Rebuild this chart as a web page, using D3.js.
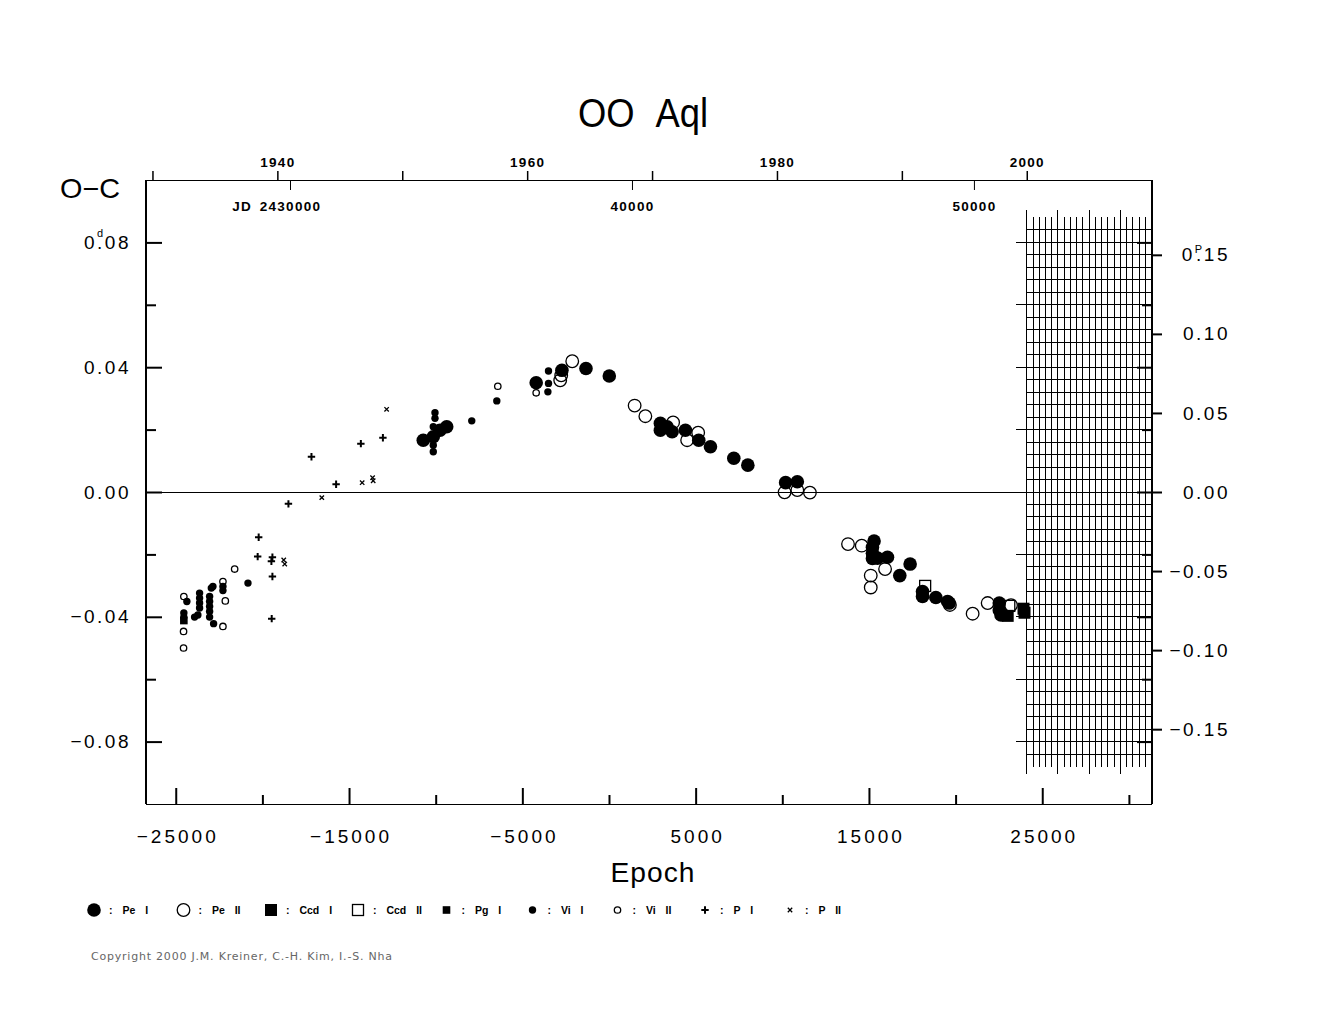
<!DOCTYPE html>
<html><head><meta charset="utf-8">
<script src="https://cdn.jsdelivr.net/npm/d3@7"></script>
<style>body{margin:0;background:#fff} svg{display:block}</style>
</head><body><svg id="c" width="1325" height="1020"></svg>
<script>
// ---------- data (epoch, O-C in days) ----------
const peI = [[-10717,0.0166],[-10139,0.0177],[-9751,0.0198],[-9364,0.0209],[-4202,0.0350],[-2717,0.0390],[-1329,0.0396],[17,0.0372],[2965,0.0220],[2965,0.0198],[3353,0.0209],[3642,0.0193],[4410,0.0198],[5179,0.0166],[5855,0.0145],[7202,0.0108],[8012,0.0086],[10191,0.0030],[10867,0.0033],[15295,-0.0157],[15202,-0.0177],[15202,-0.0196],[15202,-0.0213],[15491,-0.0212],[16069,-0.0209],[16780,-0.0268],[17376,-0.0231],[18092,-0.0319],[18092,-0.0335],[18861,-0.0338],[19538,-0.0351],[19630,-0.0356],[22520,-0.0356],[22520,-0.0378],[22618,-0.0394]];
const peII = [[-2815,0.0358],[-2757,0.0374],[-2121,0.0419],[1480,0.0277],[2098,0.0243],[3699,0.0223],[4509,0.0166],[5145,0.0190],[10133,-0.0001],[10867,0.0006],[11595,-0.0002],[13792,-0.0167],[14584,-0.0172],[15931,-0.0247],[15104,-0.0268],[15104,-0.0306],[19671,-0.0362],[20983,-0.0390],[21850,-0.0356],[23197,-0.0363]];
const ccdI = [[23006,-0.0397],[23919,-0.0374],[23977,-0.0387]];
const ccdII = [[18243,-0.0301],[23098,-0.0365]];
const pgI = [[-24532,-0.0412]];
const viI = [[-24358,-0.0351],[-24532,-0.0388],[-24532,-0.0401],[-23913,-0.0401],[-23723,-0.0394],[-23624,-0.0324],[-23624,-0.0340],[-23624,-0.0356],[-23624,-0.0372],[-23046,-0.0335],[-23046,-0.0351],[-23046,-0.0367],[-23046,-0.0383],[-23046,-0.0401],[-22948,-0.0308],[-22855,-0.0303],[-22815,-0.0422],[-22277,-0.0303],[-22277,-0.0316],[-20832,-0.0292],[-10040,0.0254],[-10040,0.0236],[-10139,0.0209],[-10139,0.0150],[-10139,0.0129],[-7919,0.0228],[-6474,0.0292],[-3491,0.0388],[-3491,0.0348],[-3526,0.0321]];
const viII = [[-24532,-0.0335],[-24549,-0.0447],[-24549,-0.0500],[-22277,-0.0287],[-22139,-0.0349],[-22277,-0.0431],[-21601,-0.0247],[-6416,0.0339],[-4202,0.0318]];
const pI = [[-20214,-0.0145],[-20272,-0.0207],[-19422,-0.0209],[-19480,-0.0222],[-19422,-0.0271],[-19462,-0.0406],[-18497,-0.0038],[-17168,0.0113],[-15746,0.0025],[-14318,0.0155],[-13046,0.0174]];
const pII = [[-18769,-0.0218],[-18711,-0.0231],[-16572,-0.0018],[-14243,0.0030],[-13642,0.0046],[-13607,0.0036],[-12832,0.0265]];

// ---------- ticks ----------
const epochMajor = [-25000,-15000,-5000,5000,15000,25000];
const epochMinor = [-20000,-10000,0,10000,20000,30000];
const ocMajor = [0.08,0.04,0,-0.04,-0.08];
const ocMinor = [0.06,0.02,-0.02,-0.06];
const phaseTicks = [0.15,0.10,0.05,0,-0.05,-0.10,-0.15];
const yearTicks = [1930,1940,1950,1960,1970,1980,1990,2000];
const yearLabels = [1940,1960,1980,2000];
const jdTicks = [2430000,2440000,2450000];
const legendLabels = ["Pe I","Pe II","Ccd I","Ccd II","Pg I","Vi I","Vi II","P I","P II"];

const P = 0.50679, T0 = 2439328;
const FONT = "'Liberation Sans', Arial, sans-serif";

const svg = d3.select('#c');
const L=146,R=1152,T=180,B=804;
const E0=-26716,E1=31333;
const x = d3.scaleLinear().domain([E0,E1]).range([L,R]);
const y = d3.scaleLinear().domain([-0.1,0.1]).range([B,T]);
const yPh = d3.scaleLinear().domain([-0.1/P,0.1/P]).range([B,T]);
const jdAt = e => T0 + e*P;
const xJD = d3.scaleLinear().domain([jdAt(E0),jdAt(E1)]).range([L,R]);
const yrAt = jd => 2000 + (jd-2451545)/365.25;
const xYr = d3.scaleLinear().domain([yrAt(jdAt(E0)),yrAt(jdAt(E1))]).range([L,R]);

svg.append('rect').attr('width',1325).attr('height',1020).attr('fill','#fff');

// ---------- hatched future region ----------
const grid = svg.append('g').attr('stroke','#000').attr('stroke-width',1).attr('shape-rendering','crispEdges');
const gx0 = xYr(2000);
d3.range(0,20).forEach(i=>{
  const yr = 2000 + i*0.5, tall = i%5===0;
  grid.append('line').attr('x1',xYr(yr)).attr('x2',xYr(yr))
    .attr('y1', tall? y(0.0905): y(0.0882)).attr('y2', tall? y(-0.0905): y(-0.0882));
});
d3.range(-21,22).forEach(i=>{
  const v = i*0.004, ext = (i%5===0);
  grid.append('line').attr('x1', ext? gx0-11 : gx0).attr('x2',R).attr('y1',y(v)).attr('y2',y(v));
});

// zero line
svg.append('line').attr('x1',L).attr('x2',R).attr('y1',y(0)).attr('y2',y(0))
  .attr('stroke','#000').attr('stroke-width',1).attr('shape-rendering','crispEdges');

// ---------- frame ----------
const fr = svg.append('g').attr('stroke','#000').attr('shape-rendering','crispEdges');
fr.append('line').attr('x1',L).attr('x2',R).attr('y1',T).attr('y2',T).attr('stroke-width',1);
fr.append('line').attr('x1',L).attr('x2',R).attr('y1',B).attr('y2',B).attr('stroke-width',1);
fr.append('line').attr('x1',L).attr('x2',L).attr('y1',T).attr('y2',B).attr('stroke-width',2);
fr.append('line').attr('x1',R).attr('x2',R).attr('y1',T).attr('y2',B).attr('stroke-width',2);

function styleAxis(g, fs, bold, ls){
  g.select('.domain').remove();
  g.selectAll('.tick line').attr('stroke','#000').attr('stroke-width',2);
  g.selectAll('.tick text').attr('fill','#000').style('font-family',FONT).style('font-size',fs+'px')
    .style('font-weight', bold?'bold':'normal').style('letter-spacing', (ls||0)+'px');
}
const fmt2 = d => d3.format('.2f')(d);

// left axis
const gl = svg.append('g').attr('transform',`translate(${L},0)`)
  .call(d3.axisLeft(y).tickValues(ocMajor).tickSize(-16).tickPadding(15).tickFormat(fmt2));
styleAxis(gl,19,false,2.5);
const glm = svg.append('g').attr('transform',`translate(${L},0)`)
  .call(d3.axisLeft(y).tickValues(ocMinor).tickSize(-10).tickFormat(''));
styleAxis(glm,10);
// right inward mirror
const gri = svg.append('g').attr('transform',`translate(${R},0)`)
  .call(d3.axisRight(y).tickValues(ocMajor).tickSize(-15).tickFormat(''));
styleAxis(gri,10);
const grim = svg.append('g').attr('transform',`translate(${R},0)`)
  .call(d3.axisRight(y).tickValues(ocMinor).tickSize(-10).tickFormat(''));
styleAxis(grim,10);
// right phase axis
const gr = svg.append('g').attr('transform',`translate(${R},0)`)
  .call(d3.axisRight(yPh).tickValues(phaseTicks).tickSize(10).tickPadding(4).tickFormat(fmt2));
styleAxis(gr,19,false,2.5);
gr.selectAll('.tick text').attr('x',78).attr('text-anchor','end');

// bottom axis
const gb = svg.append('g').attr('transform',`translate(0,${B})`)
  .call(d3.axisBottom(x).tickValues(epochMajor).tickSize(-16).tickPadding(26).tickFormat(d3.format('d')));
styleAxis(gb,19,false,3);
gb.selectAll('.tick text').attr('dx','1.5px');
const gbm = svg.append('g').attr('transform',`translate(0,${B})`)
  .call(d3.axisBottom(x).tickValues(epochMinor).tickSize(-9).tickFormat(''));
styleAxis(gbm,10);

// top year axis
const gy = svg.append('g').attr('transform',`translate(0,${T})`)
  .call(d3.axisTop(xYr).tickValues(yearTicks).tickSize(9).tickPadding(4)
    .tickFormat(d => yearLabels.includes(d) ? String(d) : ''));
styleAxis(gy,13.5,true,1.3);
gy.selectAll('.tick line').attr('stroke-width',1.5);

// top JD axis (inward)
const gj = svg.append('g').attr('transform',`translate(0,${T})`)
  .call(d3.axisBottom(xJD).tickValues(jdTicks).tickSize(10).tickPadding(11)
    .tickFormat(d => d===2430000 ? '2430000' : String(d-2400000)));
styleAxis(gj,13.5,true,1.3);
gj.selectAll('.tick line').attr('stroke-width',1);
gj.append('text').attr('x',xJD(2430000)-38).attr('y',10+11).attr('dy','0.71em')
  .attr('text-anchor','end').style('font-family',FONT).style('font-size','13.5px')
  .style('font-weight','bold').style('letter-spacing','1.3px').attr('fill','#000').text('JD');

// superscript unit marks inside the first labels
function addSup(g, val, ch, up){
  g.selectAll('.tick').filter(d => Math.abs(d-val)<1e-9).each(function(){
    const t = d3.select(this).select('text');
    const txt = t.text();
    const di = txt.indexOf('.');
    t.text('');
    t.append('tspan').text(txt.slice(0,di));
    t.append('tspan').style('font-size','11px').style('letter-spacing','0px').attr('dy',-up).text(ch);
    t.append('tspan').attr('dx',-6.1).attr('dy',up).text(txt.slice(di));
  });
}
addSup(gl, 0.08, 'd', 12);
addSup(gr, 0.15, 'P', 8);

// ---------- data symbols ----------
function drawSym(g, kind){
  switch(kind){
    case 'bigDot': g.append('circle').attr('r',6.8).attr('fill','#000'); break;
    case 'bigRing': g.append('circle').attr('r',6.3).attr('fill','none').attr('stroke','#000').attr('stroke-width',1.3); break;
    case 'sq': g.append('rect').attr('x',-6).attr('y',-6).attr('width',12).attr('height',12).attr('fill','#000'); break;
    case 'sqOpen': g.append('rect').attr('x',-5.5).attr('y',-5.5).attr('width',11).attr('height',11).attr('fill','none').attr('stroke','#000').attr('stroke-width',1.3); break;
    case 'smallSq': g.append('rect').attr('x',-3.8).attr('y',-3.8).attr('width',7.6).attr('height',7.6).attr('fill','#000'); break;
    case 'dot': g.append('circle').attr('r',3.7).attr('fill','#000'); break;
    case 'ring': g.append('circle').attr('r',3.2).attr('fill','none').attr('stroke','#000').attr('stroke-width',1.3); break;
    case 'plus': g.append('path').attr('d','M-3.7,0H3.7M0,-3.7V3.7').attr('stroke','#000').attr('stroke-width',2); break;
    case 'cross': g.append('path').attr('d','M-2.2,-2.2L2.2,2.2M2.2,-2.2L-2.2,2.2').attr('stroke','#000').attr('stroke-width',1.3); break;
  }
}
const series = [
  {data:peI, kind:'bigDot'}, {data:peII, kind:'bigRing'}, {data:ccdI, kind:'sq'},
  {data:ccdII, kind:'sqOpen'}, {data:pgI, kind:'smallSq'}, {data:viI, kind:'dot'},
  {data:viII, kind:'ring'}, {data:pI, kind:'plus'}, {data:pII, kind:'cross'}
];
const drawOrder = [1,3,6,7,8,0,2,4,5];
const pts = svg.append('g');
drawOrder.forEach(i => {
  const s = series[i];
  s.data.forEach(d => {
    const g = pts.append('g').attr('transform',`translate(${x(d[0])},${y(d[1])})`);
    drawSym(g, s.kind);
  });
});

// ---------- titles ----------
svg.append('text').attr('x',643).attr('y',127).attr('text-anchor','middle')
  .style('font-family',FONT).style('font-size','40px').attr('textLength',130)
  .attr('lengthAdjust','spacingAndGlyphs').style('word-spacing','14px').attr('fill','#000').text('OO Aql');
svg.append('text').attr('x',60).attr('y',198)
  .style('font-family',FONT).style('font-size','28px').attr('textLength',60)
  .attr('lengthAdjust','spacingAndGlyphs').attr('fill','#000').text('O\u2212C');
svg.append('text').attr('x',653).attr('y',882).attr('text-anchor','middle')
  .style('font-family',FONT).style('font-size','28px').attr('textLength',85)
  .attr('lengthAdjust','spacingAndGlyphs').style('letter-spacing','1px').attr('fill','#000').text('Epoch');

// ---------- legend ----------
const legX = [94,183.5,271,358,446.5,532.5,617.5,705,790];
const leg = svg.append('g');
series.forEach((s,i) => {
  const g = leg.append('g').attr('transform',`translate(${legX[i]},910)`);
  drawSym(g, s.kind);
  leg.append('text').attr('x',legX[i]+15).attr('y',914)
    .style('font-family',FONT).style('font-size','10.5px').style('font-weight','bold')
    .style('word-spacing','7px').attr('fill','#000').text(': ' + legendLabels[i]);
});

svg.append('text').attr('x',91).attr('y',960)
  .style('font-family',"'DejaVu Sans', Verdana, sans-serif").style('font-size','11px')
  .attr('textLength',301).attr('lengthAdjust','spacing')
  .attr('fill','#666').text('Copyright 2000 J.M. Kreiner, C.-H. Kim, I.-S. Nha');
</script></body></html>
